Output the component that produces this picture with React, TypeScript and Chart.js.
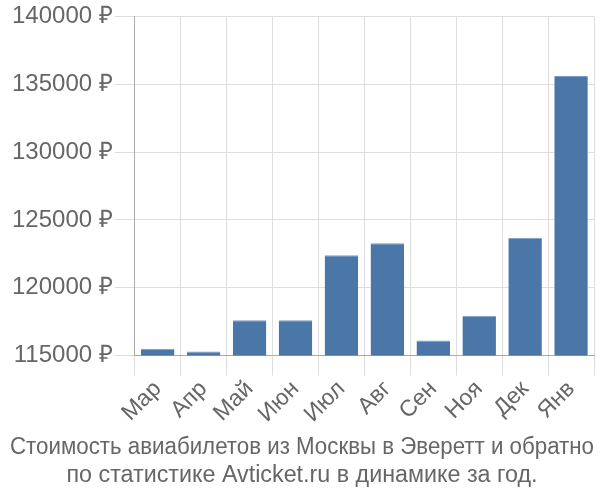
import { useEffect, useRef } from 'react';
import { Chart, registerables } from 'chart.js';

Chart.register(...registerables);

const months = ['Мар', 'Апр', 'Май', 'Июн', 'Июл', 'Авг', 'Сен', 'Ноя', 'Дек', 'Янв'];
const prices = [115500, 115300, 117600, 117600, 122400, 123270, 116100, 117930, 123690, 135600];
const titleLines = [
  'Стоимость авиабилетов из Москвы в Эверетт и обратно',
  'по статистике Avticket.ru в динамике за год.',
];

const FONT = 'Liberation Sans, Arial, sans-serif';

export default function App() {
  const canvasRef = useRef<HTMLCanvasElement>(null);

  useEffect(() => {
    document.body.style.margin = '0';
    if (!canvasRef.current) return;
    const chart = new Chart(canvasRef.current, {
      type: 'bar',
      data: {
        labels: months,
        datasets: [
          {
            data: prices,
            backgroundColor: '#4a77a8',
            borderColor: '#7a9cc2',
            borderWidth: { top: 1, left: 0, right: 0, bottom: 0 },
            categoryPercentage: 1,
            barPercentage: 0.73,
          },
        ],
      },
      options: {
        animation: false,
        responsive: true,
        maintainAspectRatio: false,
        layout: { padding: { top: 2, right: 6, left: 10, bottom: 0 } },
        plugins: {
          legend: { display: false },
          tooltip: { enabled: false },
          title: {
            display: true,
            position: 'bottom',
            text: titleLines,
            color: '#666',
            font: { family: FONT, size: 23.3, weight: 'normal', lineHeight: 1.2 },
            padding: { top: 6, bottom: 10 },
          },
        },
        scales: {
          x: {
            grid: { color: '#ddd', lineWidth: 1, tickLength: 20, offset: true },
            border: { color: '#aaa' },
            ticks: {
              color: '#666',
              maxRotation: 45,
              minRotation: 45,
              padding: 0,
              font: { family: FONT, size: 23 },
            },
          },
          y: {
            min: 115000,
            max: 140000,
            grid: { color: '#ddd', lineWidth: 1, tickLength: 20 },
            border: { color: '#aaa', width: 1 },
            ticks: {
              stepSize: 5000,
              color: '#666',
              padding: 2,
              font: { family: FONT, size: 24 },
              callback: (v) => `${v} ₽`,
            },
          },
        },
      },
    });
    return () => chart.destroy();
  }, []);

  return (
    <div style={{ width: 600, height: 500, position: 'relative' }}>
      <canvas ref={canvasRef} />
    </div>
  );
}
